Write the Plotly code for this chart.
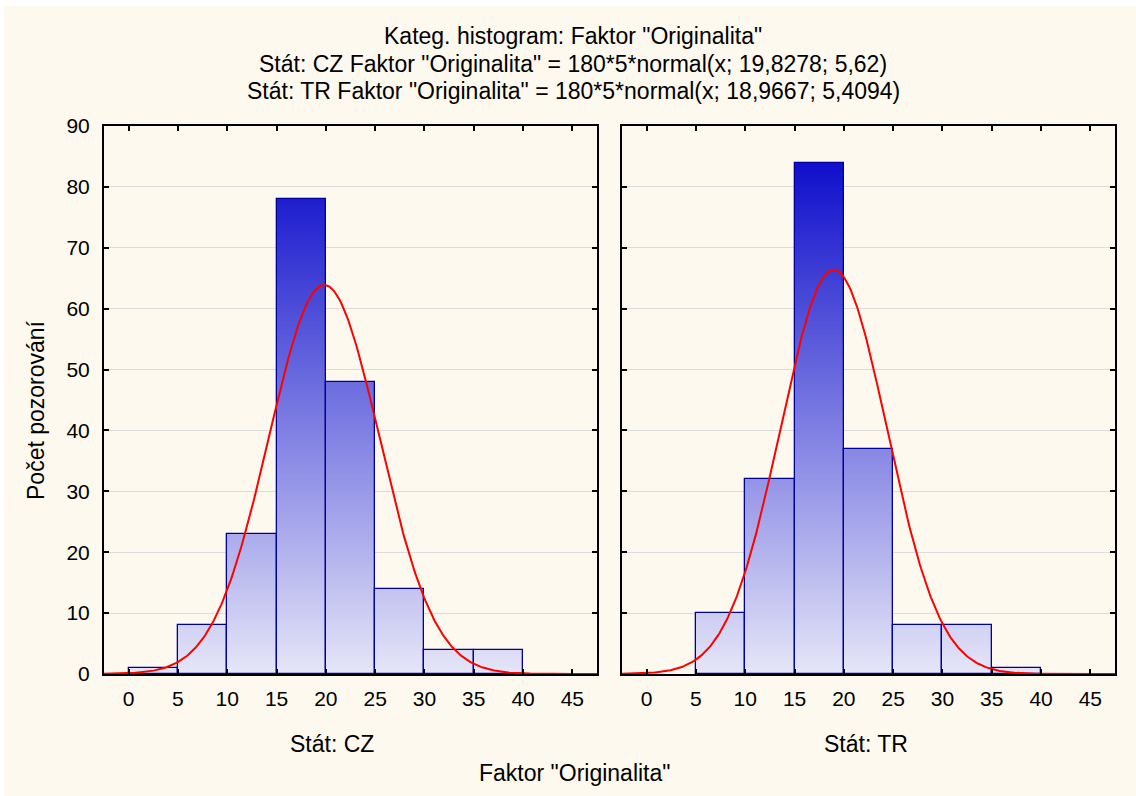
import numpy as np
import plotly.graph_objects as go
from plotly.subplots import make_subplots

# ---- data ----
bin_left = [0, 5, 10, 15, 20, 25, 30, 35]
bin_width = 5
counts_cz = [1, 8, 23, 78, 48, 14, 4, 4]
counts_tr = [0, 10, 32, 84, 37, 8, 8, 1]
n_total = 180
mean_cz, sd_cz = 19.8278, 5.62
mean_tr, sd_tr = 18.9667, 5.4094
x_ticks = [0, 5, 10, 15, 20, 25, 30, 35, 40, 45]
y_ticks = [0, 10, 20, 30, 40, 50, 60, 70, 80, 90]

W, H = 1136, 796
L, R, T, B = 104, 21, 126, 122
PW, PH = W - L - R, H - T - B
FONT = "Liberation Sans, Arial, sans-serif"

def px(xp):
    return (xp - L) / PW

def py(yp):
    return (H - B - yp) / PH

fig = make_subplots(rows=1, cols=2, horizontal_spacing=(622 - 597) / PW, shared_yaxes=False)

STEP = 0.25
grad = [[0.0, "#E6E6F8"], [1.0, "#0A0ACB"]]

def add_panel(counts, mean, sd, col):
    centers = [b + bin_width / 2 for b in bin_left]
    xs, bases, cols = [], [], []
    for c, cnt in zip(centers, counts):
        nseg = int(round(cnt / STEP))
        for k in range(nseg):
            xs.append(c)
            bases.append(k * STEP)
            cols.append(k * STEP + STEP / 2)
    fig.add_trace(go.Bar(x=xs, y=[STEP] * len(xs), base=bases, width=bin_width,
                         marker=dict(color=cols, colorscale=grad, cmin=0, cmax=86,
                                     line=dict(width=0)),
                         hoverinfo="skip", showlegend=False), row=1, col=col)
    oc = [c for c, cnt in zip(centers, counts) if cnt > 0]
    oy = [cnt for cnt in counts if cnt > 0]
    fig.add_trace(go.Bar(x=oc, y=oy, width=bin_width,
                         marker=dict(color="rgba(0,0,0,0)", line=dict(color="#00009A", width=1.3)),
                         showlegend=False), row=1, col=col)
    xc = np.linspace(-2.5, 47.5, 400)
    yc = n_total * bin_width * np.exp(-0.5 * ((xc - mean) / sd) ** 2) / (sd * np.sqrt(2 * np.pi))
    fig.add_trace(go.Scatter(x=xc, y=yc, mode="lines", line=dict(color="#FF0000", width=2),
                             showlegend=False, hoverinfo="skip"), row=1, col=col)

add_panel(counts_cz, mean_cz, sd_cz, 1)
add_panel(counts_tr, mean_tr, sd_tr, 2)

axis_common = dict(showline=True, linecolor="black", linewidth=2, mirror="ticks",
                   ticks="inside", ticklen=5, tickwidth=1.5, tickcolor="black",
                   tickfont=dict(family=FONT, size=21, color="black"), zeroline=False)
for c in (1, 2):
    fig.update_xaxes(range=[-2.5, 47.5], tickvals=x_ticks, showgrid=False,
                     ticklabelstandoff=5, row=1, col=c, **axis_common)
    fig.update_yaxes(range=[0, 90], tickvals=y_ticks, showgrid=True, gridcolor="#DCDCDC",
                     gridwidth=1, ticklabelstandoff=8, row=1, col=c, **axis_common)
fig.update_yaxes(showticklabels=False, row=1, col=2)

annotations = [
    (573, 36, 'Kateg. histogram: Faktor "Originalita"', 23, 0),
    (573, 64, 'Stát: CZ Faktor "Originalita" = 180*5*normal(x; 19,8278; 5,62)', 23, 0),
    (573, 91, 'Stát: TR Faktor "Originalita" = 180*5*normal(x; 18,9667; 5,4094)', 23, 0),
    (332, 744, 'Stát: CZ', 23, 0),
    (866, 744, 'Stát: TR', 23, 0),
    (574, 773, 'Faktor "Originalita"', 23, 0),
    (36, 410, 'Počet pozorování', 23, -90),
]
for xp, yp, txt, sz, ang in annotations:
    fig.add_annotation(x=px(xp), y=py(yp), xref="paper", yref="paper", text=txt,
                       showarrow=False, xanchor="center", yanchor="middle", textangle=ang,
                       font=dict(family=FONT, size=sz, color="black"))

fig.add_shape(type="rect", xref="paper", yref="paper", x0=px(4), x1=px(W), y0=py(H), y1=py(6),
              fillcolor="#FDF9EE", line=dict(width=0), layer="below")

fig.update_layout(width=W, height=H, margin=dict(l=L, r=R, t=T, b=B),
                  paper_bgcolor="white", plot_bgcolor="white",
                  barmode="overlay", bargap=0, font=dict(family=FONT))

fig.write_html("out.html")
